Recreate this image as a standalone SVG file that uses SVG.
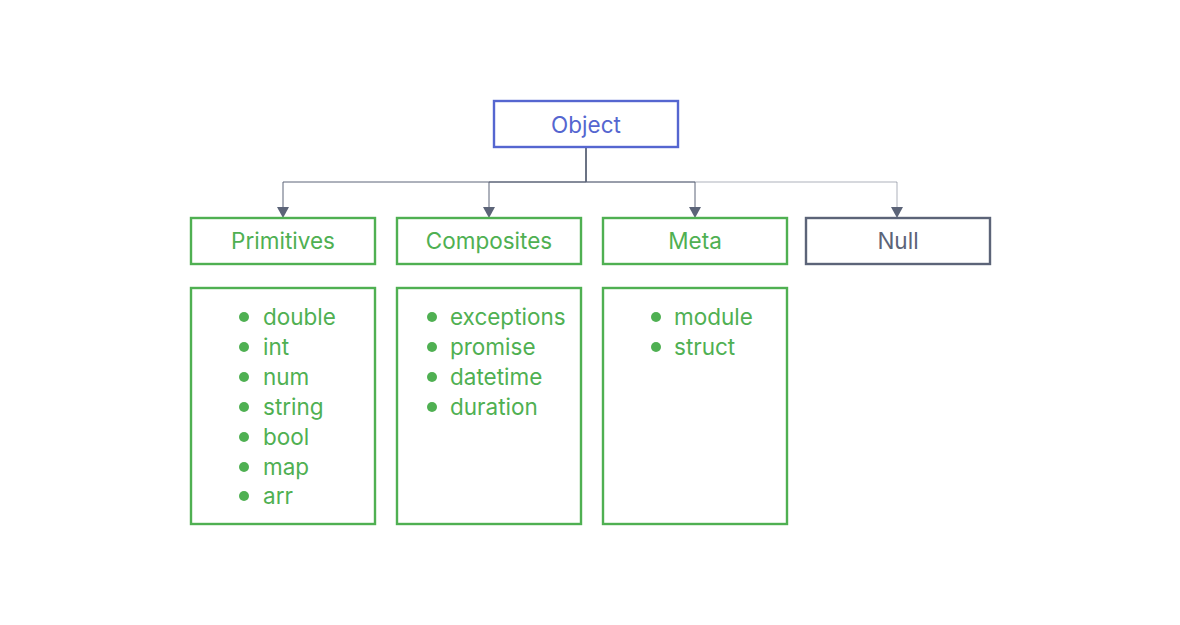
<svg xmlns="http://www.w3.org/2000/svg" width="1180" height="625" viewBox="0 0 1180 625">
<defs>
<style>
.box{fill:#fff;stroke-width:2.4}
.g{stroke:#4fb052}
.gt{fill:#4fb052}
.t{font-family:Inter,"Noto Sans",sans-serif;font-size:22.5px;text-anchor:middle;dominant-baseline:central}
.li{font-family:Inter,"Noto Sans",sans-serif;font-size:22.5px;fill:#4fb052;dominant-baseline:central}
.c{fill:none;stroke:#5c6478;stroke-width:1}
</style>
</defs>
<rect width="1180" height="625" fill="#fff"/>
<g id="connectors">
<path class="c" d="M586,148 V182 H283 V208"/>
<path class="c" d="M586,148 V182 H489 V208"/>
<path class="c" d="M586,148 V182 H695 V208"/>
<path class="c" d="M586,148 V182 H897 V208" stroke-opacity="0.5"/>
<path d="M277,207 L289,207 L283,218 Z" fill="#5c6478"/>
<path d="M483,207 L495,207 L489,218 Z" fill="#5c6478"/>
<path d="M689,207 L701,207 L695,218 Z" fill="#5c6478"/>
<path d="M891,207 L903,207 L897,218 Z" fill="#5c6478"/>
</g>
<g id="object">
<rect class="box" x="494" y="101" width="184" height="46" stroke="#5566d0"/>
<text class="t" x="586" y="124" fill="#5566d0">Object</text>
</g>
<g id="primitives">
<rect class="box g" x="191" y="218" width="184" height="46"/>
<text class="t gt" x="283" y="240">Primitives</text>
</g>
<g id="composites">
<rect class="box g" x="397" y="218" width="184" height="46"/>
<text class="t gt" x="489" y="240">Composites</text>
</g>
<g id="meta">
<rect class="box g" x="603" y="218" width="184" height="46"/>
<text class="t gt" x="695" y="240">Meta</text>
</g>
<g id="null">
<rect class="box" x="806" y="218" width="184" height="46" stroke="#5c6478"/>
<text class="t" x="898" y="240" fill="#5c6478">Null</text>
</g>
<g id="primitives-list">
<rect class="box g" x="191" y="288" width="184" height="236"/>
<g class="gt">
<circle cx="244" cy="317" r="5"/><circle cx="244" cy="347" r="5"/><circle cx="244" cy="377" r="5"/><circle cx="244" cy="407" r="5"/><circle cx="244" cy="437" r="5"/><circle cx="244" cy="467" r="5"/><circle cx="244" cy="496" r="5"/>
</g>
<text class="li" x="263" y="316">double</text>
<text class="li" x="263" y="346">int</text>
<text class="li" x="263" y="376">num</text>
<text class="li" x="263" y="406">string</text>
<text class="li" x="263" y="436">bool</text>
<text class="li" x="263" y="466">map</text>
<text class="li" x="263" y="495">arr</text>
</g>
<g id="composites-list">
<rect class="box g" x="397" y="288" width="184" height="236"/>
<g class="gt">
<circle cx="432" cy="317" r="5"/><circle cx="432" cy="347" r="5"/><circle cx="432" cy="377" r="5"/><circle cx="432" cy="407" r="5"/>
</g>
<text class="li" x="450" y="316">exceptions</text>
<text class="li" x="450" y="346">promise</text>
<text class="li" x="450" y="376">datetime</text>
<text class="li" x="450" y="406">duration</text>
</g>
<g id="meta-list">
<rect class="box g" x="603" y="288" width="184" height="236"/>
<g class="gt">
<circle cx="656" cy="317" r="5"/><circle cx="656" cy="347" r="5"/>
</g>
<text class="li" x="674" y="316">module</text>
<text class="li" x="674" y="346">struct</text>
</g>
</svg>
